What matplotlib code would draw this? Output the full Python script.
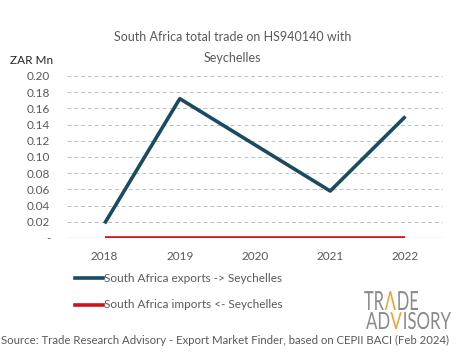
import matplotlib.pyplot as plt
from matplotlib.ticker import FuncFormatter
from matplotlib.textpath import TextPath
from matplotlib.patches import PathPatch
from matplotlib.font_manager import FontProperties
from matplotlib.transforms import Affine2D

# === Data ===
years = ["2018", "2019", "2020", "2021", "2022"]
exports = [0.018, 0.172, 0.115, 0.058, 0.150]
imports = [0.0, 0.0, 0.0, 0.0, 0.0]
y_ticks = [0.0, 0.02, 0.04, 0.06, 0.08, 0.10, 0.12, 0.14, 0.16, 0.18, 0.20]

TEXT = "#595959"
plt.rcParams['font.family'] = ['Lato', 'DejaVu Sans']

W, H = 465, 359

# === Figure ===
fig = plt.figure(figsize=(W / 100, H / 100), dpi=100)
ax = fig.add_axes([67 / W, 1 - 238 / H, (443 - 67) / W, (238 - 76) / H])

x = range(len(years))
ax.plot(x, exports, color="#1B4A63", lw=2.6, solid_capstyle="butt", zorder=3)
ax.plot(x, imports, color="#D0121B", lw=2.6, solid_capstyle="butt", zorder=3)

ax.set_xlim(-0.5, len(years) - 0.5)
ax.set_ylim(0, 0.20)
ax.set_xticks(list(x))
ax.set_xticklabels(years)
ax.set_yticks(y_ticks)
ax.yaxis.set_major_formatter(FuncFormatter(lambda v, p: "-" if v == 0 else f"{v:.2f}"))

for t in y_ticks[1:]:
    ax.axhline(t, color="#BFBFBF", lw=0.7, ls=(0, (4, 3)), zorder=1)
ax.axhline(0, color="#D9D9D9", lw=1.0, zorder=2)

for s in ax.spines.values():
    s.set_visible(False)
ax.tick_params(length=0, colors=TEXT, labelsize=8.5)
ax.tick_params(axis="x", pad=9)
ax.tick_params(axis="y", pad=12)

# === Texts ===
fig.text(0.5, 1 - 37 / H, "South Africa total trade on HS940140 with", ha="center",
         va="center", fontsize=9, color=TEXT)
fig.text(0.5, 1 - 58 / H, "Seychelles", ha="center", va="center", fontsize=9, color=TEXT)
fig.text(10 / W, 1 - 61 / H, "ZAR Mn", ha="left", va="center", fontsize=8.5, color="#262626")

# legend
fig.lines.append(plt.Line2D([75 / W, 103 / W], [1 - 278 / H] * 2, color="#1B4A63",
                            lw=2.6, transform=fig.transFigure))
fig.lines.append(plt.Line2D([75 / W, 103 / W], [1 - 305 / H] * 2, color="#D0121B",
                            lw=2.6, transform=fig.transFigure))
fig.text(104 / W, 1 - 278 / H, "South Africa exports -> Seychelles", ha="left",
         va="center", fontsize=8.5, color=TEXT)
fig.text(104 / W, 1 - 305 / H, "South Africa imports <- Seychelles", ha="left",
         va="center", fontsize=8.5, color=TEXT)

# logo: condensed letters, one accent letter in orange
GREY = "#8A8A8A"
ORANGE = "#F0A030"
logo_font = FontProperties(family="Lato", weight="normal")


def logo_row(pieces, x0, x1, top, bottom):
    paths = []
    off = 0
    for s, c in pieces:
        p = TextPath((off, 0), s, size=10, prop=logo_font)
        paths.append((p, c))
        off = p.get_extents().x1 + 0.6
    total = paths[-1][0].get_extents().x1
    sx = (x1 - x0) / total
    sy = (bottom - top) / 7.2
    tr = Affine2D().scale(sx, sy).translate(x0, H - bottom).scale(1 / W, 1 / H) + fig.transFigure
    for p, c in paths:
        fig.patches.append(PathPatch(p, facecolor=c, edgecolor="none", transform=tr))


logo_row([("TR", GREY), ("Λ", ORANGE), ("DE", GREY)], 364, 418, 291, 310)
logo_row([("AD", GREY), ("V", ORANGE), ("ISORY", GREY)], 366, 451, 312, 329)

fig.text(1 / W, 1 - 340 / H,
         "Source: Trade Research Advisory - Export Market Finder, based on CEPII BACI (Feb 2024)",
         ha="left", va="center", fontsize=8.2, color=TEXT)

fig.savefig("out.png", dpi=100)
